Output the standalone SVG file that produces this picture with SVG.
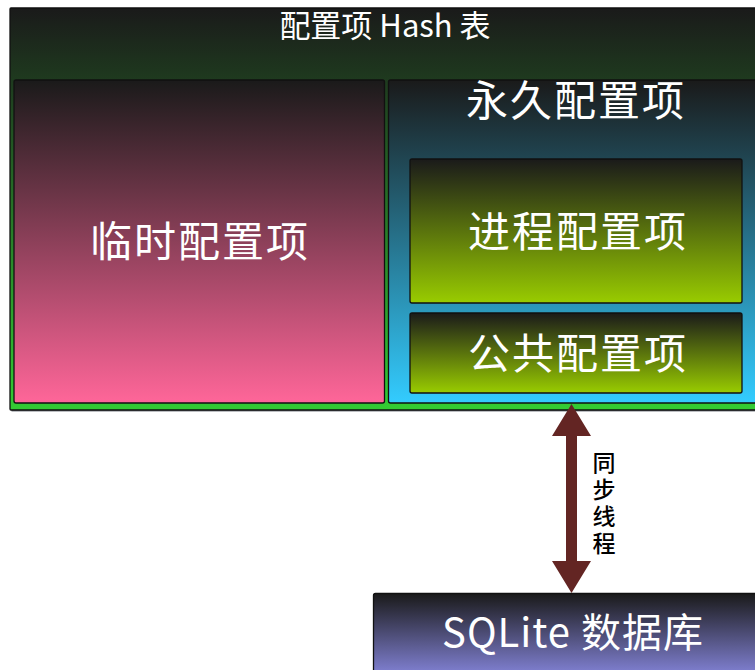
<svg xmlns="http://www.w3.org/2000/svg" width="755" height="670" viewBox="0 0 755 670">
<defs>
<style>
.box{stroke:#111;stroke-width:1.3}
.t{font-family:"Noto Sans CJK SC","Noto Sans",sans-serif;fill:#fff;text-anchor:middle;dominant-baseline:central}
.big{font-size:42px;letter-spacing:2px}
.lbl{font-family:"Noto Sans CJK SC","Noto Sans",sans-serif;fill:#000;font-size:23px;font-weight:500;writing-mode:vertical-rl;letter-spacing:4px}
</style>
<linearGradient id="gOuter" x1="0" y1="0" x2="0" y2="1"><stop offset="0" stop-color="#1a1a1a"/><stop offset="1" stop-color="#33cc33"/></linearGradient>
<linearGradient id="gPink" x1="0" y1="0" x2="0" y2="1"><stop offset="0" stop-color="#1a1a1a"/><stop offset="1" stop-color="#ff6699"/></linearGradient>
<linearGradient id="gBlue" x1="0" y1="0" x2="0" y2="1"><stop offset="0" stop-color="#1a1a1a"/><stop offset="1" stop-color="#33ccff"/></linearGradient>
<linearGradient id="gLime" x1="0" y1="0" x2="0" y2="1"><stop offset="0" stop-color="#1a1a1a"/><stop offset="1" stop-color="#99cc00"/></linearGradient>
<linearGradient id="gPurple" x1="0" y1="0" x2="0" y2="1"><stop offset="0" stop-color="#1a1a1a"/><stop offset="1" stop-color="#9999ff"/></linearGradient>
</defs>

<g id="hash-table">
<rect x="11.5" y="9.5" width="760" height="402" fill="#7a7f85"/>
<rect class="box" x="10" y="8" width="760" height="402" rx="1" fill="url(#gOuter)"/>
<text class="t" x="385" y="23" font-size="31">配置项 Hash 表</text>
</g>

<g id="temp-config">
<rect class="box" x="14" y="80" width="370.5" height="323" rx="2" fill="url(#gPink)"/>
<text class="t big" x="200" y="238">临时配置项</text>
</g>

<g id="perm-config">
<rect class="box" x="388.5" y="80" width="380" height="323" rx="2" fill="url(#gBlue)"/>
<text class="t big" x="576" y="97">永久配置项</text>
</g>

<g id="process-config">
<rect class="box" x="410" y="159" width="332" height="144" rx="2" fill="url(#gLime)"/>
<text class="t big" x="578" y="228">进程配置项</text>
</g>

<g id="public-config">
<rect class="box" x="410" y="313" width="332" height="80" rx="2" fill="url(#gLime)"/>
<text class="t big" x="578" y="350">公共配置项</text>
</g>

<g id="sqlite">
<rect class="box" x="373.5" y="593.5" width="400" height="100" rx="2" fill="url(#gPurple)"/>
<text class="t" x="573" y="630" font-size="40" letter-spacing="1">SQLite 数据库</text>
</g>

<g id="connectors">
<polygon points="571.5,404 591,436 577,436 577,561 591,561 571.5,593 552,561 566,561 566,436 552,436" fill="#632523"/>
<text class="lbl" x="604" y="451">同步线程</text>
</g>
</svg>
